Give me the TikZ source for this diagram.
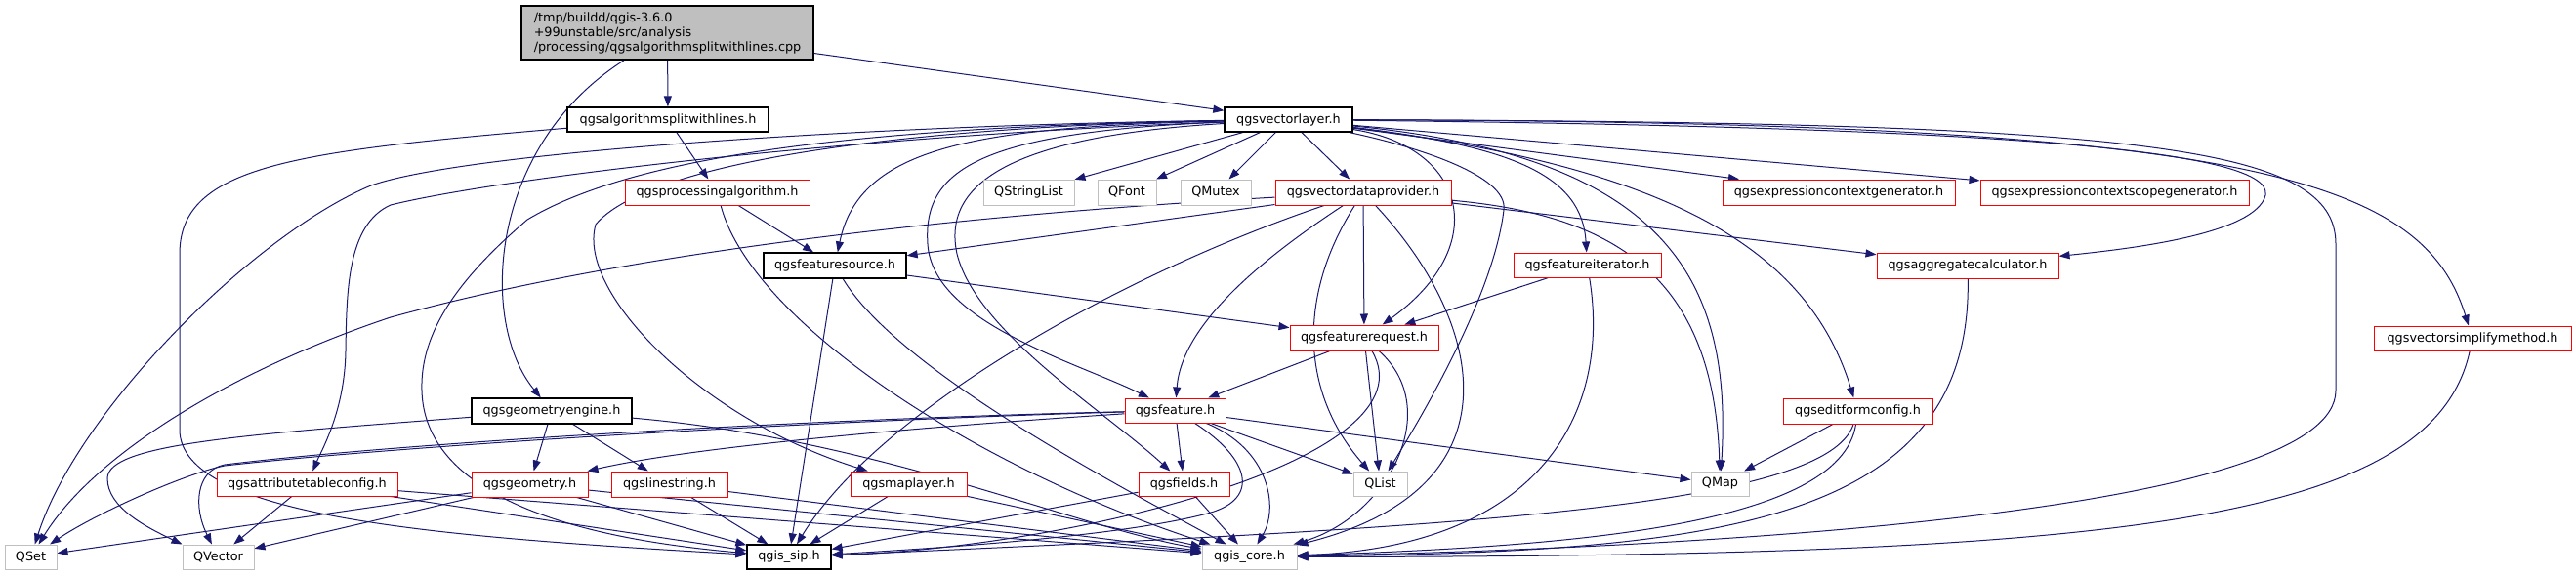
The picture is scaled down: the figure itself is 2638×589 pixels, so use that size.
\documentclass[tikz,border=0pt]{standalone}
\usepackage{fontspec}
\setmainfont{DejaVu Sans}
\usetikzlibrary{arrows.meta}
\definecolor{edgecol}{HTML}{191970}
\definecolor{grayb}{HTML}{BFBFBF}
\pgfdeclarelayer{bg}
\pgfsetlayers{bg,main}
\begin{document}
\begin{tikzpicture}[x=1pt,y=-1pt,
  box/.style 2 args={rectangle,inner sep=0pt,minimum width=#1pt,minimum height=#2pt,fill=white,line width=1pt,font=\fontsize{12.8}{15}\selectfont},
  blk/.style={draw=black,line width=1.3pt},
  rd/.style={draw=red},
  gr/.style={draw=grayb},
  edg/.style={draw=edgecol,line width=1pt,-{Triangle[length=11pt,width=8pt]}}]
\begin{pgfonlayer}{bg}
\fill[white] (0,0) rectangle (2638,589);
\end{pgfonlayer}
\useasboundingbox (0,0) rectangle (2638,589);
% nodes
\node[box={299}{55},blk,fill=grayb,align=left] (main) at (683.5,33.5) {/tmp/buildd/qgis-3.6.0\\+99unstable/src/analysis\\/processing/qgsalgorithmsplitwithlines.cpp};
\node[box={206}{25},blk] (algsplit) at (684,122.5) {qgsalgorithmsplitwithlines.h};
\node[box={131}{25},blk] (vlayer) at (1319.5,122.5) {qgsvectorlayer.h};
\node[box={189}{26},rd] (procalg) at (734.5,197) {qgsprocessingalgorithm.h};
\node[box={93}{26},gr] (QStringList) at (1053.5,197) {QStringList};
\node[box={60}{26},gr] (QFont) at (1154,197) {QFont};
\node[box={72}{26},gr] (QMutex) at (1245,197) {QMutex};
\node[box={180}{26},rd] (vdp) at (1396,197) {qgsvectordataprovider.h};
\node[box={238}{26},rd] (exprgen) at (1883,197) {qgsexpressioncontextgenerator.h};
\node[box={275}{26},rd] (exprscope) at (2165.5,197) {qgsexpressioncontextscopegenerator.h};
\node[box={146}{26},blk] (fsource) at (855,272) {qgsfeaturesource.h};
\node[box={151}{25},rd] (fiter) at (1625.5,271.5) {qgsfeatureiterator.h};
\node[box={186}{26},rd] (aggcalc) at (2015,272) {qgsaggregatecalculator.h};
\node[box={152}{26},rd] (freq) at (1397,346) {qgsfeaturerequest.h};
\node[box={202}{25},rd] (simplify) at (2532,346.5) {qgsvectorsimplifymethod.h};
\node[box={164}{26},blk] (geomeng) at (565,421) {qgsgeometryengine.h};
\node[box={103}{25},rd] (feature) at (1203.5,420.5) {qgsfeature.h};
\node[box={153}{26},rd] (editform) at (1902.5,421) {qgseditformconfig.h};
\node[box={185}{25},rd] (attrtab) at (314.5,495.5) {qgsattributetableconfig.h};
\node[box={119}{26},rd] (geometry) at (542.5,496) {qgsgeometry.h};
\node[box={119}{26},rd] (linestring) at (685.5,496) {qgslinestring.h};
\node[box={119}{25},rd] (maplayer) at (930.5,495.5) {qgsmaplayer.h};
\node[box={93}{25},rd] (fields) at (1212.5,495.5) {qgsfields.h};
\node[box={55}{25},gr] (QList) at (1413.5,495.5) {QList};
\node[box={59}{25},gr] (QMap) at (1761.5,495.5) {QMap};
\node[box={53}{25},gr] (QSet) at (31.5,570.5) {QSet};
\node[box={73}{25},gr] (QVector) at (223.5,570.5) {QVector};
\node[box={86}{25},blk] (sip) at (808,570.5) {qgis\_sip.h};
\node[box={97}{25},gr] (core) at (1279.5,570.5) {qgis\_core.h};
% edges
\begin{pgfonlayer}{bg}
\draw[edg] (main) -- (algsplit);
\draw[edg] (main) -- (vlayer);
\draw[edg] (main) .. controls (500,150) and (490,330) .. (geomeng);
\draw[edg] (algsplit) -- (procalg);
\draw[edg] (algsplit) .. controls (300,155) and (184,170) .. (184,260) -- (184,440) .. controls (184,530) and (450,550) .. (sip);
% vectorlayer
\draw[edg] (vlayer) .. controls (900,128) and (480,155) .. (380,190) .. controls (260,240) and (80,420) .. (QSet);
\draw[edg] (vlayer) .. controls (850,140) and (500,185) .. (400,210) .. controls (355,230) and (355,300) .. (354,360) .. controls (353,420) and (330,460) .. (attrtab);
\draw[edg] (vlayer) .. controls (850,130) and (640,165) .. (540,225) .. controls (470,285) and (430,340) .. (432,400) .. controls (434,480) and (520,545) .. (sip);
\draw[edg] (vlayer) .. controls (900,130) and (660,170) .. (610,230) .. controls (590,300) and (720,430) .. (maplayer);
\draw[edg] (vlayer) .. controls (1000,130) and (880,150) .. (fsource);
\draw[edg] (vlayer) .. controls (1000,135) and (945,175) .. (950,250) .. controls (955,330) and (1100,370) .. (feature);
\draw[edg] (vlayer) .. controls (1030,140) and (965,190) .. (980,260) .. controls (1000,340) and (1130,420) .. (fields);
\draw[edg] (vlayer) -- (QStringList);
\draw[edg] (vlayer) -- (QFont);
\draw[edg] (vlayer) -- (QMutex);
\draw[edg] (vlayer) -- (vdp);
\draw[edg] (vlayer) .. controls (1450,150) and (1545,180) .. (1540,215) .. controls (1530,300) and (1460,420) .. (QList);
\draw[edg] (vlayer) .. controls (1500,150) and (1530,250) .. (freq);
\draw[edg] (vlayer) .. controls (1550,150) and (1620,180) .. (fiter);
\draw[edg] (vlayer) .. controls (1700,160) and (1775,280) .. (QMap);
\draw[edg] (vlayer) .. controls (1700,170) and (1850,250) .. (editform);
\draw[edg] (vlayer) -- (exprgen);
\draw[edg] (vlayer) -- (exprscope);
\draw[edg] (vlayer) .. controls (2000,130) and (2330,150) .. (2320,200) .. controls (2310,240) and (2180,255) .. (aggcalc);
\draw[edg] (vlayer) .. controls (2200,125) and (2392,150) .. (2392,250) -- (2392,400) .. controls (2392,520) and (1800,560) .. (core);
\draw[edg] (vlayer) .. controls (2300,125) and (2480,180) .. (simplify);
% vectordataprovider
\draw[edg] (vdp) -- (fsource);
\draw[edg] (vdp) .. controls (900,225) and (600,270) .. (400,325) .. controls (250,375) and (100,460) .. (QSet);
\draw[edg] (vdp) .. controls (1150,280) and (900,420) .. (sip);
\draw[edg] (vdp) .. controls (1300,260) and (1210,330) .. (feature);
\draw[edg] (vdp) .. controls (1330,300) and (1330,400) .. (QList);
\draw[edg] (vdp) -- (freq);
\draw[edg] (vdp) .. controls (1520,330) and (1560,500) .. (core);
\draw[edg] (vdp) -- (aggcalc);
\draw[edg] (vdp) .. controls (1650,220) and (1755,280) .. (QMap);
% featuresource, processing
\draw[edg] (fsource) -- (freq);
\draw[edg] (fsource) -- (sip);
\draw[edg] (fsource) .. controls (920,380) and (1150,500) .. (core);
\draw[edg] (procalg) -- (fsource);
\draw[edg] (procalg) .. controls (770,330) and (1000,480) .. (core);
% featurerequest, iterator
\draw[edg] (freq) -- (feature);
\draw[edg] (freq) -- (QList);
\draw[edg] (freq) .. controls (1480,420) and (1420,530) .. (core);
\draw[edg] (freq) .. controls (1470,470) and (1100,560) .. (sip);
\draw[edg] (fiter) -- (freq);
\draw[edg] (fiter) .. controls (1650,420) and (1580,560) .. (core);
% feature
\draw[edg] (feature) -- (fields);
\draw[edg] (feature) -- (QList);
\draw[edg] (feature) -- (QMap);
\draw[edg] (feature) .. controls (1300,460) and (1310,520) .. (core);
\draw[edg] (feature) .. controls (1280,470) and (1290,510) .. (1240,525) .. controls (1150,550) and (950,562) .. (sip);
\draw[edg] (feature) .. controls (900,440) and (700,460) .. (geometry);
\draw[edg] (feature) .. controls (800,430) and (400,455) .. (230,476) .. controls (200,482) and (198,520) .. (QVector);
\draw[edg] (feature) .. controls (800,432) and (400,458) .. (230,477) .. controls (190,485) and (100,525) .. (QSet);
% geometry engine
\draw[edg] (geomeng) -- (geometry);
\draw[edg] (geomeng) -- (linestring);
\draw[edg] (geomeng) .. controls (250,445) and (110,455) .. (110,490) .. controls (110,520) and (150,540) .. (QVector.north west);
\draw[edg] (geomeng) .. controls (900,450) and (1100,540) .. (core);
% lower row
\draw[edg] (attrtab) -- (QVector);
\draw[edg] (attrtab) -- (sip);
\draw[edg] (attrtab) -- (core);
\draw[edg] (geometry) -- (QSet);
\draw[edg] (geometry) -- (QVector);
\draw[edg] (geometry) -- (sip);
\draw[edg] (geometry) -- (core);
\draw[edg] (linestring) -- (sip);
\draw[edg] (linestring) -- (core);
\draw[edg] (maplayer) -- (sip);
\draw[edg] (maplayer) -- (core);
\draw[edg] (fields) -- (sip);
\draw[edg] (fields) -- (core);
% right side
\draw[edg] (editform) -- (QMap);
\draw[edg] (editform) .. controls (1870,520) and (1500,540) .. (sip);
\draw[edg] (editform) .. controls (1885,540) and (1600,560) .. (core);
\draw[edg] (aggcalc) .. controls (2020,540) and (1750,565) .. (core);
\draw[edg] (simplify) .. controls (2490,540) and (2150,570) .. (core);
\end{pgfonlayer}
\end{tikzpicture}
\end{document}
